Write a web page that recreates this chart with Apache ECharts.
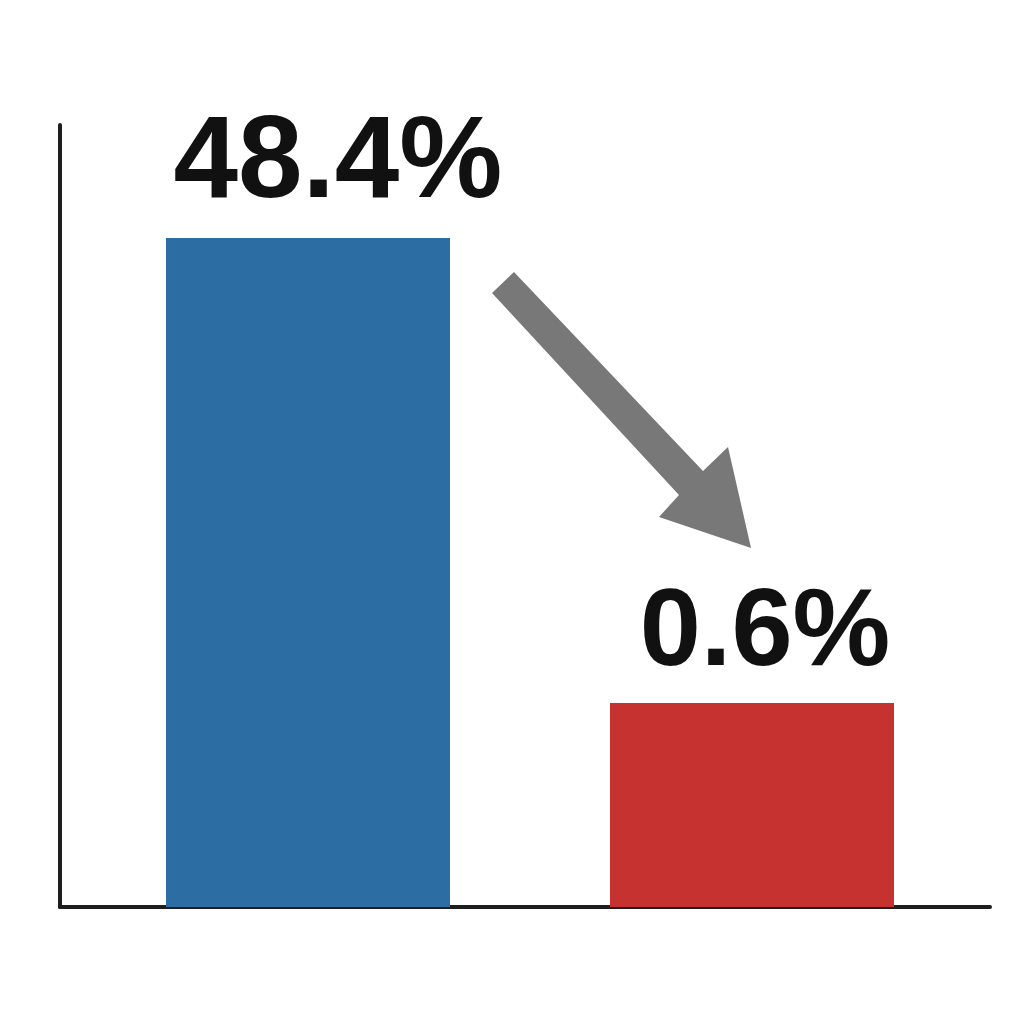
<!DOCTYPE html>
<html>
<head>
<meta charset="utf-8">
<script src="https://cdn.jsdelivr.net/npm/echarts@6/dist/echarts.min.js"></script>
<style>html,body{margin:0;padding:0;background:#fff}#c{width:1024px;height:1024px}</style>
</head>
<body>
<div id="c"></div>
<script>
// Data
const categories = ['Before', 'After'];
const values = [48.4, 0.6];
const labels = ['48.4%', '0.6%'];
const barColors = ['#2C6DA3', '#C63230'];

const Y_MIN = 0.0874;
const Y_MAX = 140.6;

const labelStyles = [
  {fontSize: 116, distance: 15, dx: 30},
  {fontSize: 110, distance: 13, dx: 13}
];

const chart = echarts.init(document.getElementById('c'), null, {renderer: 'canvas'});

const option = {
  backgroundColor: '#ffffff',
  animation: false,
  grid: [
    {left: 86, right: 50, top: 125, bottom: 117},
    {left: 60, right: 34, top: 125, bottom: 117}
  ],
  xAxis: [
    {type: 'category', gridIndex: 0, data: categories,
     axisLine: {show: false}, axisTick: {show: false}, axisLabel: {show: false}},
    {type: 'category', gridIndex: 1, data: [],
     axisLine: {show: true, lineStyle: {color: '#1e1e1e', width: 4}},
     axisTick: {show: false}, axisLabel: {show: false}}
  ],
  yAxis: [
    {type: 'log', logBase: 10, gridIndex: 0, min: Y_MIN, max: Y_MAX,
     axisLine: {show: false}, axisTick: {show: false}, axisLabel: {show: false}, splitLine: {show: false}},
    {type: 'value', gridIndex: 1, min: 0, max: 1,
     axisLine: {show: true, lineStyle: {color: '#1e1e1e', width: 4}},
     axisTick: {show: false}, axisLabel: {show: false}, splitLine: {show: false}}
  ],
  series: [{
    type: 'custom',
    xAxisIndex: 0, yAxisIndex: 0,
    z: 1,
    data: values.map((v, i) => [i, v]),
    renderItem: function (params, api) {
      const i = api.value(0);
      const v = api.value(1);
      const top = api.coord([i, v]);
      const bottom = api.coord([i, Y_MIN]);
      const w = 284;
      const ls = labelStyles[i];
      return {
        type: 'group',
        children: [
          {
            type: 'rect',
            shape: {x: top[0] - w / 2, y: top[1], width: w, height: bottom[1] - top[1]},
            style: {fill: barColors[i]}
          },
          {
            type: 'text',
            style: {
              text: labels[i],
              x: top[0] + ls.dx,
              y: top[1] - ls.distance,
              align: 'center',
              verticalAlign: 'bottom',
              fontFamily: 'Liberation Sans, Arial, sans-serif',
              fontWeight: 'bold',
              fontSize: ls.fontSize,
              lineHeight: ls.fontSize,
              fill: '#111111'
            }
          }
        ]
      };
    }
  }],
  graphic: [{
    type: 'polygon',
    z: 100,
    shape: {
      points: [[492, 293], [514, 272], [703, 471], [728, 447], [751, 548], [659, 517], [679, 495]]
    },
    style: {fill: '#787878'}
  }]
};
chart.setOption(option);
</script>
</body>
</html>
